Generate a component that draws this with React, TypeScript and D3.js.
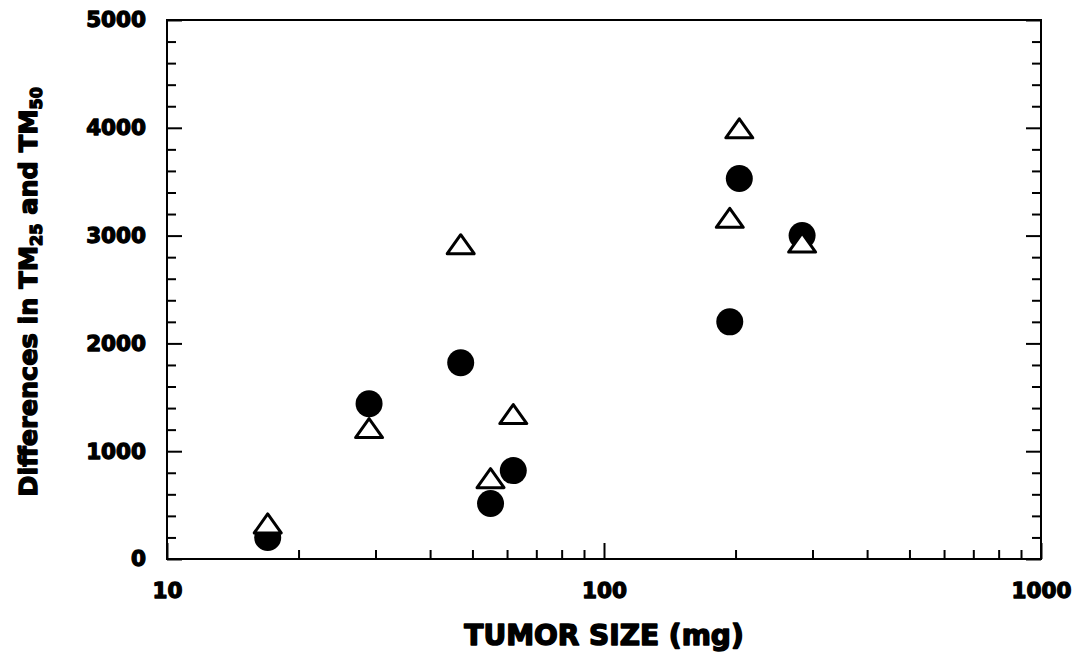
import React, { useEffect, useRef } from 'react';
import * as d3 from 'd3';

// tumor size (mg) shared by both series
const tumorSize = [17, 29, 47, 55, 62, 194, 204, 284];
// filled circles
const circleValues = [200, 1440, 1820, 515, 820, 2200, 3530, 3000];
// open triangles
const triangleValues = [330, 1215, 2920, 750, 1345, 3165, 3995, 2935];

const xMajorTicks = [10, 100, 1000];
const xMinorTicks = [20, 30, 40, 50, 60, 70, 80, 90, 200, 300, 400, 500, 600, 700, 800, 900];
const yMajorTicks = [0, 1000, 2000, 3000, 4000, 5000];
const yMinorTicks = [200, 400, 600, 800, 1200, 1400, 1600, 1800, 2200, 2400, 2600, 2800,
    3200, 3400, 3600, 3800, 4200, 4400, 4600, 4800];

const W = 1074;
const H = 653;
const margin = {top: 20, right: 33, bottom: 94, left: 167};
const FONT = '"DejaVu Sans", Arial, sans-serif';

// heavy look: bold font plus a thin outline of the same colour
const heavy = (sel, size, sw) => sel
    .style('font-family', FONT)
    .style('font-weight', 'bold')
    .style('font-size', size + 'px')
    .attr('fill', '#000')
    .attr('stroke', '#000')
    .attr('stroke-width', sw)
    .attr('stroke-linejoin', 'round');

export default function App() {
    const ref = useRef<SVGSVGElement>(null);

    useEffect(() => {
        const svg = d3.select(ref.current);
        svg.selectAll('*').remove();

        const x = d3.scaleLog().domain([10, 1000]).range([margin.left, W - margin.right]);
        const y = d3.scaleLinear().domain([0, 5000]).range([H - margin.bottom, margin.top]);

        const styleAxis = (g) => {
            g.select('.domain').remove();
            g.selectAll('line').attr('stroke', '#000').attr('stroke-width', 2);
            g.selectAll('text').call(heavy, 21.5, 1.3);
        };

        // bottom axis
        svg.append('g')
            .attr('transform', `translate(0,${H - margin.bottom})`)
            .call(d3.axisBottom(x).tickValues(xMajorTicks).tickFormat(d3.format('d'))
                .tickSizeInner(-16).tickSizeOuter(0).tickPadding(24))
            .call(styleAxis);
        svg.append('g')
            .attr('transform', `translate(0,${H - margin.bottom})`)
            .call(d3.axisBottom(x).tickValues(xMinorTicks).tickFormat(() => '')
                .tickSizeInner(-9).tickSizeOuter(0))
            .call(styleAxis);

        // left axis
        svg.append('g')
            .attr('transform', `translate(${margin.left},0)`)
            .call(d3.axisLeft(y).tickValues(yMajorTicks).tickFormat(d3.format('d'))
                .tickSizeInner(-15).tickSizeOuter(0).tickPadding(21))
            .call(styleAxis);
        svg.append('g')
            .attr('transform', `translate(${margin.left},0)`)
            .call(d3.axisLeft(y).tickValues(yMinorTicks).tickFormat(() => '')
                .tickSizeInner(-9).tickSizeOuter(0))
            .call(styleAxis);

        // right axis, ticks only
        svg.append('g')
            .attr('transform', `translate(${W - margin.right},0)`)
            .call(d3.axisRight(y).tickValues(yMajorTicks).tickFormat(() => '')
                .tickSizeInner(-15).tickSizeOuter(0))
            .call(styleAxis);
        svg.append('g')
            .attr('transform', `translate(${W - margin.right},0)`)
            .call(d3.axisRight(y).tickValues(yMinorTicks).tickFormat(() => '')
                .tickSizeInner(-9).tickSizeOuter(0))
            .call(styleAxis);

        // frame
        svg.append('rect')
            .attr('x', margin.left)
            .attr('y', margin.top)
            .attr('width', W - margin.left - margin.right)
            .attr('height', H - margin.top - margin.bottom)
            .attr('fill', 'none')
            .attr('stroke', '#000')
            .attr('stroke-width', 2);

        // circles
        svg.append('g')
            .selectAll('circle')
            .data(circleValues)
            .enter()
            .append('circle')
            .attr('cx', (d, i) => x(tumorSize[i]))
            .attr('cy', (d) => y(d))
            .attr('r', 13.5)
            .attr('fill', '#000');

        // triangles drawn on top, white filled
        const tri = 'M0,-9.5L13.5,9.5L-13.5,9.5Z';
        svg.append('g')
            .selectAll('path')
            .data(triangleValues)
            .enter()
            .append('path')
            .attr('d', tri)
            .attr('transform', (d, i) => `translate(${x(tumorSize[i])},${y(d)})`)
            .attr('fill', '#fff')
            .attr('stroke', '#000')
            .attr('stroke-width', 3)
            .attr('stroke-linejoin', 'round');

        // x title
        svg.append('text')
            .attr('x', (margin.left + W - margin.right) / 2)
            .attr('y', 645)
            .attr('text-anchor', 'middle')
            .call(heavy, 28, 1.5)
            .text('TUMOR SIZE (mg)');

        // y title with subscripts
        const yt = svg.append('text')
            .attr('transform', 'translate(37,292) rotate(-90)')
            .attr('text-anchor', 'middle')
            .call(heavy, 25.5, 1.4);
        yt.append('tspan').text('Differences in TM');
        yt.append('tspan').attr('dy', 5).style('font-size', '16px').text('25');
        yt.append('tspan').attr('dy', -5).text(' and TM');
        yt.append('tspan').attr('dy', 5).style('font-size', '16px').text('50');
    }, []);

    return (
        <svg ref={ref} width={W} height={H}
             style={{position: 'absolute', left: 0, top: 0, background: '#fff'}}/>
    );
}
